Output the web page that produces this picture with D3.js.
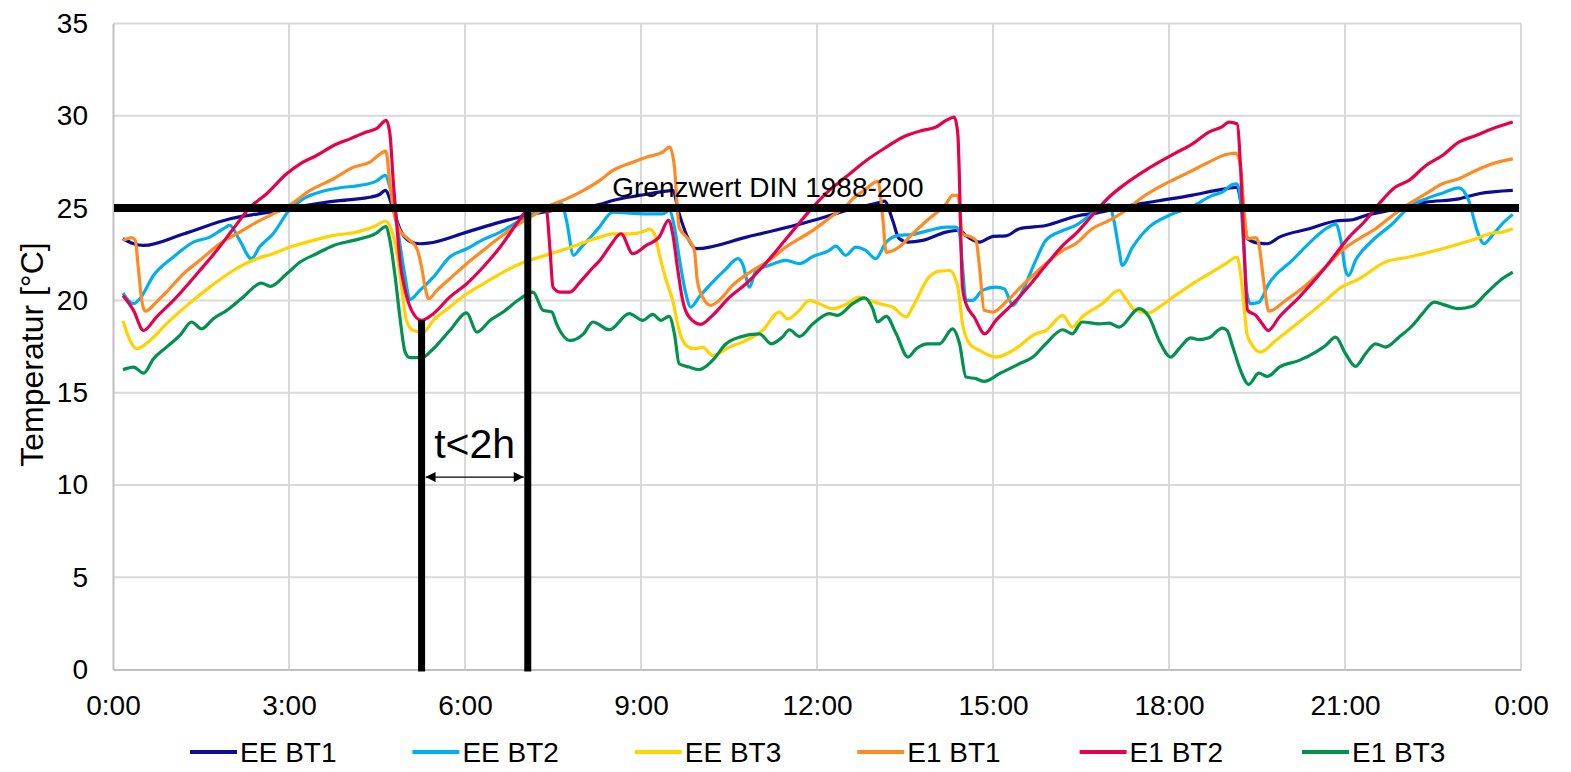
<!DOCTYPE html>
<html>
<head>
<meta charset="utf-8">
<script src="https://cdn.jsdelivr.net/npm/d3@7"></script>
<style>
  body { margin: 0; background: #fff; }
  text { font-family: "Liberation Sans", Arial, sans-serif; fill: #000; }
</style>
</head>
<body>
<div id="chart"></div>
<script>
/* Temperaturverlauf der Bürotage, 24 h */

// series names and colours
const seriesNames = ["EE BT1", "EE BT2", "EE BT3", "E1 BT1", "E1 BT2", "E1 BT3"];
const seriesColors = ["#0c0c96", "#00b0ee", "#ffd200", "#ff8a22", "#e6004e", "#00924e"];

// values: [hour, temperature]
const eeBt1 = [[0.17,23.34],[0.35,23.07],[0.52,22.98],[1.2,23.6],[2.0,24.42],[2.5,24.7],[3.0,24.95],[3.3,25.15],[3.6,25.3],[4.0,25.45],[4.4,25.6],[4.55,25.75],[4.64,25.96],[4.78,24.9],[4.9,23.8],[5.06,23.2],[5.23,23.07],[5.37,23.1],[6.03,23.7],[6.6,24.24],[7.05,24.6],[7.5,24.87],[8.3,25.2],[8.5,25.4],[9.0,25.7],[9.43,25.92],[9.54,25.96],[9.65,24.7],[9.82,23.25],[9.94,22.8],[10.8,23.43],[11.93,24.33],[12.5,24.87],[13.06,25.3],[13.15,25.38],[13.29,24.33],[13.4,23.35],[13.55,23.16],[13.8,23.25],[14.2,23.7],[14.43,23.8],[14.54,23.5],[14.77,23.16],[15.0,23.47],[15.22,23.5],[15.45,23.88],[15.9,24.06],[16.47,24.6],[16.7,24.7],[17.26,25.1],[17.83,25.4],[18.4,25.7],[18.8,25.96],[19.08,26.1],[19.16,26.14],[19.25,24.87],[19.34,23.34],[19.53,23.1],[19.68,23.07],[19.88,23.43],[20.39,23.88],[20.84,24.3],[21.13,24.37],[21.35,24.6],[21.8,24.9],[22.38,25.32],[22.94,25.5],[23.28,25.78],[23.86,25.96]];

const eeBt2 = [[0.17,20.4],[0.35,19.82],[0.46,20.1],[0.69,21.35],[1.03,22.35],[1.37,23.16],[1.65,23.43],[1.88,23.88],[1.99,24.06],[2.16,23.25],[2.36,22.26],[2.5,22.9],[2.73,23.61],[3.0,24.87],[3.24,25.5],[3.53,25.87],[3.87,26.1],[4.21,26.23],[4.49,26.46],[4.64,26.77],[4.72,26.14],[4.81,24.87],[4.89,23.07],[4.98,21.26],[5.06,20.04],[5.23,20.54],[5.46,21.26],[5.74,22.35],[6.03,22.8],[6.31,23.29],[6.6,23.7],[6.94,24.33],[7.16,24.69],[7.45,25.0],[7.65,25.23],[7.73,24.33],[7.85,22.44],[7.96,22.8],[8.19,23.6],[8.29,23.97],[8.52,24.78],[8.8,24.73],[9.09,24.69],[9.37,24.69],[9.48,24.87],[9.57,23.97],[9.65,22.35],[9.74,20.72],[9.85,19.64],[9.99,20.18],[10.22,20.99],[10.45,21.71],[10.65,22.26],[10.73,21.99],[10.85,20.72],[10.96,21.62],[11.19,21.9],[11.47,22.17],[11.7,21.99],[11.93,22.38],[12.21,22.71],[12.32,22.94],[12.49,22.44],[12.66,22.89],[12.83,22.71],[13.0,22.26],[13.18,23.16],[13.4,23.52],[13.63,23.57],[13.91,23.79],[14.2,23.97],[14.37,23.97],[14.43,23.6],[14.48,21.81],[14.54,20.0],[14.65,20.0],[14.82,20.54],[15.05,20.72],[15.19,20.63],[15.34,19.73],[15.45,20.18],[15.73,22.17],[15.9,23.25],[16.19,23.79],[16.41,24.06],[16.69,24.69],[16.98,25.2],[17.06,24.33],[17.15,22.71],[17.2,21.9],[17.38,22.89],[17.66,23.97],[18.0,24.6],[18.4,25.09],[18.74,25.69],[18.91,25.87],[19.08,26.28],[19.16,26.32],[19.22,25.4],[19.28,22.71],[19.33,20.36],[19.39,19.82],[19.53,19.9],[19.7,20.9],[20.1,22.17],[20.44,23.25],[20.67,23.88],[20.84,24.12],[20.93,23.25],[21.01,21.62],[21.06,21.35],[21.18,22.17],[21.47,23.25],[21.81,24.15],[22.09,25.05],[22.38,25.5],[22.66,25.81],[22.94,26.1],[23.11,25.4],[23.25,23.8],[23.37,23.07],[23.51,23.52],[23.68,24.15],[23.86,24.66]];

const eeBt3 = [[0.17,18.88],[0.29,17.83],[0.4,17.38],[0.63,17.83],[0.91,18.73],[1.26,19.73],[1.65,20.72],[2.05,21.62],[2.45,22.26],[2.73,22.53],[3.02,22.89],[3.41,23.25],[3.76,23.52],[4.15,23.7],[4.49,24.06],[4.64,24.3],[4.75,23.79],[4.84,22.53],[4.92,20.72],[5.0,18.92],[5.12,18.37],[5.29,18.28],[5.46,18.92],[5.74,19.64],[6.03,20.36],[6.31,20.9],[6.6,21.44],[6.94,21.99],[7.28,22.35],[7.73,22.8],[8.3,23.43],[8.52,23.6],[8.8,23.6],[9.09,23.79],[9.14,23.88],[9.23,23.6],[9.31,22.53],[9.43,21.08],[9.54,20.0],[9.65,18.37],[9.77,17.56],[9.91,17.38],[10.05,17.47],[10.22,17.02],[10.51,17.47],[10.79,17.83],[11.07,18.37],[11.36,19.37],[11.5,19.0],[11.7,19.46],[11.87,20.0],[12.04,19.82],[12.27,19.55],[12.49,19.78],[12.72,20.18],[12.89,20.0],[13.12,19.78],[13.29,19.64],[13.52,19.1],[13.63,19.64],[13.91,21.26],[14.09,21.59],[14.26,21.62],[14.4,20.72],[14.48,18.73],[14.6,17.65],[14.77,17.29],[15.05,16.93],[15.34,17.29],[15.73,18.19],[15.9,18.37],[16.19,19.19],[16.35,18.55],[16.52,19.1],[16.86,19.82],[17.15,20.54],[17.26,20.09],[17.43,19.46],[17.66,19.32],[17.83,19.64],[18.11,20.27],[18.4,20.9],[18.68,21.44],[18.97,21.99],[19.16,22.35],[19.22,21.44],[19.28,19.64],[19.33,18.19],[19.42,17.56],[19.56,17.2],[19.82,17.83],[20.22,18.83],[20.67,20.0],[20.9,20.63],[21.24,21.17],[21.69,22.08],[22.09,22.35],[22.66,22.8],[23.23,23.34],[23.51,23.65],[23.68,23.7],[23.86,23.88]];

const e1Bt1 = [[0.17,23.25],[0.32,23.4],[0.38,23.25],[0.43,21.81],[0.49,20.0],[0.55,19.42],[0.74,19.91],[0.91,20.45],[1.2,21.44],[1.48,22.17],[1.82,23.07],[2.16,23.7],[2.45,24.24],[2.73,24.69],[3.0,25.14],[3.36,25.96],[3.76,26.59],[4.1,27.22],[4.38,27.49],[4.52,27.85],[4.65,28.09],[4.72,26.32],[4.78,24.87],[4.89,23.79],[5.06,23.25],[5.18,22.8],[5.26,21.81],[5.32,20.72],[5.38,20.09],[5.52,20.54],[5.74,21.17],[6.03,21.99],[6.31,22.71],[6.6,23.43],[6.88,24.06],[7.16,24.6],[7.45,25.14],[7.73,25.5],[8.02,25.96],[8.3,26.5],[8.52,27.04],[8.86,27.49],[9.09,27.76],[9.37,28.03],[9.49,28.3],[9.57,27.22],[9.65,23.97],[9.82,23.25],[9.91,22.71],[9.96,21.08],[10.05,20.18],[10.19,19.73],[10.33,20.0],[10.56,20.81],[10.9,21.62],[11.19,22.17],[11.47,22.89],[11.93,23.79],[12.27,24.6],[12.49,25.1],[12.61,25.5],[12.8,25.95],[13.04,26.45],[13.12,24.5],[13.18,22.6],[13.4,22.89],[13.63,23.61],[13.91,24.42],[14.2,25.23],[14.31,25.69],[14.4,25.69],[14.48,23.61],[14.63,23.43],[14.71,23.25],[14.77,21.81],[14.85,19.46],[15.0,19.37],[15.22,19.91],[15.5,20.81],[15.9,21.99],[16.19,22.71],[16.41,23.07],[16.69,23.88],[16.98,24.33],[17.26,24.87],[17.55,25.6],[17.83,26.14],[18.11,26.59],[18.4,27.04],[18.68,27.49],[18.97,27.9],[19.14,27.98],[19.22,27.22],[19.28,24.87],[19.34,23.34],[19.48,23.4],[19.53,23.07],[19.62,20.9],[19.7,19.42],[19.99,20.0],[20.33,20.81],[20.67,21.81],[20.95,22.71],[21.24,23.34],[21.52,23.88],[21.81,24.6],[22.09,25.23],[22.38,25.78],[22.66,26.32],[22.94,26.59],[23.23,27.04],[23.51,27.4],[23.86,27.67]];

const e1Bt2 = [[0.17,20.27],[0.35,19.46],[0.52,18.37],[0.74,19.1],[1.03,20.0],[1.48,21.62],[1.77,22.71],[2.05,23.88],[2.34,25.05],[2.62,25.78],[2.96,26.86],[3.19,27.4],[3.47,27.85],[3.76,28.39],[4.04,28.75],[4.32,29.12],[4.49,29.3],[4.66,29.75],[4.72,29.03],[4.78,26.32],[4.84,23.97],[4.89,22.17],[4.98,20.54],[5.09,19.46],[5.26,18.92],[5.46,19.28],[5.74,20.18],[6.03,20.9],[6.31,21.81],[6.6,22.89],[6.88,24.15],[7.05,24.87],[7.22,25.14],[7.33,25.05],[7.39,24.87],[7.45,22.71],[7.5,20.72],[7.62,20.45],[7.79,20.45],[7.96,20.99],[8.19,21.81],[8.3,22.17],[8.46,22.89],[8.66,23.61],[8.86,22.53],[9.09,22.98],[9.31,23.43],[9.47,24.33],[9.54,23.61],[9.62,21.81],[9.71,20.0],[9.82,19.1],[10.02,18.7],[10.22,19.19],[10.51,20.18],[10.79,20.9],[11.07,21.81],[11.36,22.89],[11.64,23.97],[11.93,25.05],[12.21,25.96],[12.49,26.68],[12.84,27.58],[13.18,28.3],[13.46,28.84],[13.8,29.21],[14.03,29.39],[14.2,29.75],[14.34,29.93],[14.4,29.03],[14.43,26.32],[14.45,23.61],[14.48,20.72],[14.54,19.82],[14.68,19.1],[14.86,18.19],[15.05,18.92],[15.34,19.82],[15.62,20.81],[15.9,21.9],[16.19,22.98],[16.41,23.61],[16.69,24.6],[16.98,25.6],[17.26,26.32],[17.55,26.95],[17.83,27.49],[18.11,27.98],[18.4,28.48],[18.68,29.12],[18.91,29.42],[19.02,29.66],[19.16,29.57],[19.22,27.22],[19.28,22.71],[19.34,19.46],[19.48,19.19],[19.59,18.73],[19.69,18.37],[19.88,19.1],[20.22,20.18],[20.67,21.81],[21.07,23.43],[21.35,24.33],[21.58,25.23],[21.86,26.14],[22.09,26.5],[22.38,27.31],[22.66,27.85],[22.94,28.57],[23.23,28.93],[23.51,29.3],[23.86,29.66]];

const e1Bt3 = [[0.17,16.25],[0.35,16.39],[0.52,16.06],[0.69,16.84],[0.91,17.47],[1.14,18.1],[1.34,18.83],[1.51,18.46],[1.71,19.01],[1.94,19.46],[2.22,20.18],[2.53,20.94],[2.68,20.76],[2.96,21.44],[3.19,22.08],[3.47,22.53],[3.76,22.98],[4.1,23.25],[4.49,23.65],[4.65,24.0],[4.72,23.25],[4.81,21.26],[4.89,19.1],[4.98,17.2],[5.06,16.9],[5.26,16.9],[5.46,17.38],[5.74,18.37],[6.03,19.32],[6.2,18.28],[6.43,18.92],[6.65,19.37],[6.94,20.09],[7.16,20.45],[7.33,19.46],[7.48,19.37],[7.56,18.73],[7.79,17.83],[8.02,18.19],[8.18,18.83],[8.46,18.41],[8.8,19.28],[9.03,18.92],[9.2,19.24],[9.34,18.92],[9.48,19.14],[9.57,18.19],[9.65,16.57],[9.82,16.39],[9.99,16.25],[10.22,16.75],[10.45,17.65],[10.68,18.01],[11.02,18.19],[11.22,17.65],[11.41,18.01],[11.53,18.41],[11.7,18.05],[11.93,18.73],[12.21,19.28],[12.35,19.19],[12.61,19.82],[12.81,20.14],[12.95,19.55],[13.03,18.83],[13.18,19.14],[13.35,18.19],[13.55,16.93],[13.69,17.38],[13.89,17.65],[14.09,17.65],[14.31,18.46],[14.43,17.65],[14.54,15.85],[14.71,15.76],[14.85,15.61],[15.11,16.03],[15.45,16.57],[15.68,16.93],[15.9,17.65],[16.19,18.41],[16.35,18.19],[16.52,18.83],[16.81,18.73],[16.98,18.77],[17.15,18.55],[17.49,19.55],[17.66,19.1],[17.83,17.83],[18.03,16.93],[18.17,17.38],[18.37,17.97],[18.51,17.87],[18.68,17.97],[18.91,18.5],[18.99,18.37],[19.08,17.56],[19.22,16.21],[19.36,15.45],[19.53,16.06],[19.68,15.88],[19.88,16.39],[20.22,16.75],[20.5,17.2],[20.67,17.56],[20.84,18.01],[21.01,17.11],[21.18,16.43],[21.35,17.11],[21.52,17.65],[21.69,17.47],[21.92,18.01],[22.15,18.64],[22.32,19.28],[22.52,19.91],[22.72,19.73],[22.94,19.55],[23.17,19.68],[23.4,20.36],[23.68,21.17],[23.86,21.53]];

// ticks
const hourTicks = [0, 3, 6, 9, 12, 15, 18, 21, 24];
const tempTicks = [0, 5, 10, 15, 20, 25, 30, 35];

// annotation values
const limitTemp = 25;
const limitLabel = "Grenzwert DIN 1988-200";
const markStart = 5.26, markEnd = 7.07, markStartTemp = 18.92;
const arrowTemp = 10.43;
const arrowLabel = "t<2h";

const allSeries = [eeBt1, eeBt2, eeBt3, e1Bt1, e1Bt2, e1Bt3];

/* Size of the chart */
const width = 1571,
      height = 772,
      margin = ({top: 23.5, right: 50, bottom: 102.4, left: 113});

let svg = d3.select("#chart")
            .append("svg")
            .attr("width", width)
            .attr("height", height);

let x = d3.scaleLinear()
          .domain([0, 24])
          .range([margin.left, width - margin.right]);

let y = d3.scaleLinear()
          .domain([0, 35])
          .range([height - margin.bottom, margin.top]);

/* Gridlines */
svg.append("g")
   .selectAll("line")
   .data(tempTicks.filter(d => d > 0))
   .join("line")
   .attr("x1", x(0)).attr("x2", x(24))
   .attr("y1", d => y(d)).attr("y2", d => y(d))
   .attr("stroke", "#d9d9d9")
   .attr("stroke-width", 2);

svg.append("g")
   .selectAll("line")
   .data(hourTicks.filter(d => d > 0))
   .join("line")
   .attr("x1", d => x(d)).attr("x2", d => x(d))
   .attr("y1", y(0)).attr("y2", y(35))
   .attr("stroke", "#d9d9d9")
   .attr("stroke-width", 2);

/* Axes */
const xAxis = g => g
      .attr("transform", `translate(0, ${y(0)})`)
      .call(d3.axisBottom(x)
              .tickValues(hourTicks)
              .tickFormat(d => (d % 24) + ":00")
              .tickSize(0)
              .tickPadding(25.5))
      .call(g => g.select(".domain").attr("stroke", "#bfbfbf").attr("stroke-width", 2));

const yAxis = g => g
      .attr("transform", `translate(${x(0)}, 0)`)
      .call(d3.axisLeft(y)
              .tickValues(tempTicks)
              .tickSize(0)
              .tickPadding(25))
      .call(g => g.select(".domain").attr("stroke", "#bfbfbf").attr("stroke-width", 2));

svg.append("g").call(xAxis);
svg.append("g").call(yAxis);

svg.selectAll(".tick text")
   .attr("font-size", 28)
   .attr("font-family", "Liberation Sans, Arial, sans-serif")
   .attr("fill", "#000");

svg.append("text")
   .attr("transform", `translate(43, ${(y(0) + y(35)) / 2 + 8}) rotate(-90)`)
   .attr("text-anchor", "middle")
   .attr("font-size", 32)
   .text("Temperatur [°C]");

/* Series lines */
const line = d3.line()
               .x(d => x(d[0]))
               .y(d => y(d[1]))
               .curve(d3.curveMonotoneX);

svg.append("g")
   .selectAll("path")
   .data(allSeries)
   .join("path")
   .attr("fill", "none")
   .attr("stroke", (d, i) => seriesColors[i])
   .attr("stroke-width", 3.2)
   .attr("stroke-linejoin", "round")
   .attr("d", line);

/* Limit line and time marks */
svg.append("line")
   .attr("x1", x(0) + 1).attr("x2", x(24) - 2)
   .attr("y1", y(limitTemp)).attr("y2", y(limitTemp))
   .attr("stroke", "#000")
   .attr("stroke-width", 8);

svg.append("text")
   .attr("x", x(8.51))
   .attr("y", y(limitTemp) - 11)
   .attr("font-size", 28)
   .text(limitLabel);

svg.append("line")
   .attr("x1", x(markStart)).attr("x2", x(markStart))
   .attr("y1", y(markStartTemp)).attr("y2", y(0) + 2)
   .attr("stroke", "#000")
   .attr("stroke-width", 7);

svg.append("line")
   .attr("x1", x(markEnd)).attr("x2", x(markEnd))
   .attr("y1", y(limitTemp)).attr("y2", y(0) + 2)
   .attr("stroke", "#000")
   .attr("stroke-width", 7);

/* Arrow between the marks */
const defs = svg.append("defs");
defs.append("marker")
    .attr("id", "arrowHead")
    .attr("viewBox", "0 0 10 10")
    .attr("refX", 10).attr("refY", 5)
    .attr("markerUnits", "userSpaceOnUse")
    .attr("markerWidth", 11).attr("markerHeight", 10)
    .attr("orient", "auto-start-reverse")
    .append("path")
    .attr("d", "M0,0L10,5L0,10Z")
    .attr("fill", "#000");

svg.append("line")
   .attr("x1", x(markStart) + 4).attr("x2", x(markEnd) - 4)
   .attr("y1", y(arrowTemp)).attr("y2", y(arrowTemp))
   .attr("stroke", "#000")
   .attr("stroke-width", 1.3)
   .attr("marker-start", "url(#arrowHead)")
   .attr("marker-end", "url(#arrowHead)");

svg.append("text")
   .attr("x", (x(markStart) + x(markEnd)) / 2)
   .attr("y", y(arrowTemp) - 19)
   .attr("text-anchor", "middle")
   .attr("font-size", 41)
   .text(arrowLabel);

/* Legend */
let legend = svg.append("g")
                .selectAll("g")
                .data(seriesNames)
                .join("g")
                .attr("transform", (d, i) => `translate(${190 + i * 222.4}, 752)`);

legend.append("line")
      .attr("x1", 0).attr("x2", 47)
      .attr("stroke", (d, i) => seriesColors[i])
      .attr("stroke-width", 4);

legend.append("text")
      .attr("x", 50)
      .attr("dy", "0.36em")
      .attr("font-size", 28)
      .text(d => d);
</script>
</body>
</html>
